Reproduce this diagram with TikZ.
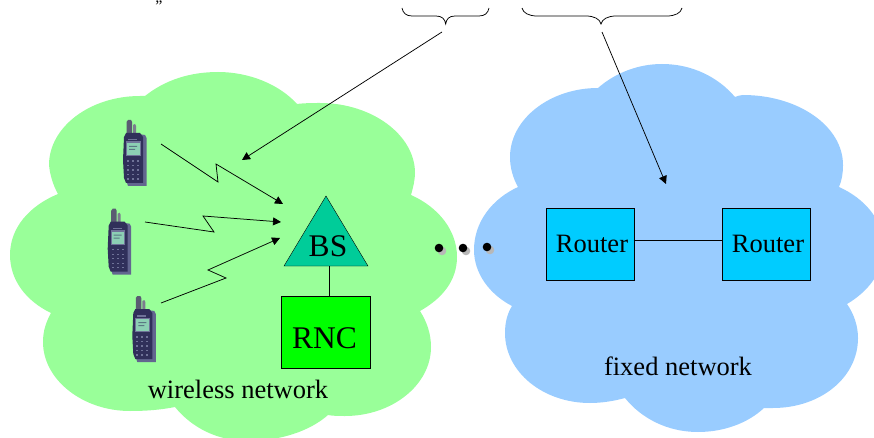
\documentclass[tikz,border=0pt]{standalone}
\usepackage{fontspec}
\setmainfont{Liberation Serif}
\usetikzlibrary{arrows.meta,shapes.geometric}
\definecolor{cloudgreen}{HTML}{99FF99}
\definecolor{cloudblue}{HTML}{99CCFF}
\definecolor{bsfill}{HTML}{00CC99}
\definecolor{rncfill}{HTML}{00FF00}
\definecolor{routerfill}{HTML}{00CCFF}
\definecolor{phonebody}{HTML}{30305A}
\definecolor{phoneback}{HTML}{62668F}
\definecolor{phonescreen}{HTML}{8CCFB4}
\definecolor{phonekey}{HTML}{6F7398}
\definecolor{phoneaerial}{HTML}{5A5C72}
\tikzset{
  x=1pt,y=-1pt,
  line width=0.8pt,
  label text/.style={inner sep=0pt,anchor=base,font=\fontsize{26.5}{28}\selectfont},
  big text/.style={inner sep=0pt,anchor=base,font=\fontsize{31.5}{33}\selectfont},
  routerbox/.style={draw=black,fill=routerfill,minimum width=88pt,minimum height=72pt,inner sep=0pt,outer sep=0pt},
  signal/.style={draw=black,line width=0.75pt,-{Triangle[length=8pt,width=8pt]}},
  pointer/.style={draw=black,line width=0.75pt,-{Triangle[length=8pt,width=8pt]}},
  dotmark/.style={circle,fill=black,minimum size=8.6pt,inner sep=0pt},
  dotshadow/.style={circle,fill=black!28,minimum size=8.6pt,inner sep=0pt},
  bracket/.style={draw=black,line width=0.75pt},
  phone/.pic={
    \fill[phoneback] (8,13) -- (22,15) -- (23.5,18) -- (23.5,66) -- (5,66) -- (3,60) -- cycle;
    \fill[phoneaerial] (3.5,14) -- (3.5,2) -- (5,0) -- (8,0) -- (9,2) -- (9,14) -- cycle;
    \fill[phoneaerial!80] (10,14) -- (10,5) -- (12,4) -- (13,6) -- (13,14) -- cycle;
    \fill[phonebody] (1,17) -- (3,13) -- (17,13) -- (20,17) -- (20,63) -- (3,63) -- (1,58) -- (0,40) -- cycle;
    \fill[phonekey] (5,19) rectangle (14,20.5);
    \fill[phonekey] (3,21.5) rectangle (17.5,36);
    \fill[phonescreen] (4,23) rectangle (16.5,35);
    \fill[phonebody!55!phonescreen] (6,26) rectangle (14,27) (6,29) rectangle (12,30);
    \foreach \ky in {41,45.5,50,54.5,59}{
      \foreach \kx in {5,10,15}{
        \fill[phonekey] (\kx-1,\ky-0.6) rectangle (\kx+1,\ky+0.6);
      }
    }
  }
}
\begin{document}
\begin{tikzpicture}
\clip (0,0) rectangle (874,438);
\useasboundingbox (0,0) rectangle (874,438);
% clouds
\fill[cloudgreen] (145,96) .. controls (165,80) and (190,72) .. (218,72)
  .. controls (250,72) and (280,85) .. (297,104)
  .. controls (305,103) and (312,103) .. (320,103)
  .. controls (372,103) and (415,135) .. (415,173)
  .. controls (415,180) and (413,188) .. (411,195)
  .. controls (438,207) and (457,230) .. (457,257)
  .. controls (457,280) and (443,298) .. (420,311)
  .. controls (427,322) and (431,334) .. (431,347)
  .. controls (431,385) and (392,416) .. (345,416)
  .. controls (339,416) and (333,416) .. (328,415)
  .. controls (310,431) and (280,441) .. (248,441)
  .. controls (218,441) and (192,428) .. (175,407)
  .. controls (160,410) and (145,411) .. (130,411)
  .. controls (83,411) and (43,380) .. (43,342)
  .. controls (43,331) and (46,322) .. (51,313)
  .. controls (26,301) and (10,280) .. (10,255)
  .. controls (10,228) and (29,206) .. (58,194)
  .. controls (53,185) and (50,175) .. (49,165)
  .. controls (49,127) and (90,96) .. (140,96)
  .. controls (142,96) and (143,96) .. (145,96) -- cycle;
\fill[cloudblue] (598,88) .. controls (615,73) and (638,64) .. (662,64)
  .. controls (692,64) and (718,77) .. (735,97)
  .. controls (738,96) and (740,95) .. (743,95)
  .. controls (798,95) and (843,126) .. (843,165)
  .. controls (843,173) and (842,180) .. (839,187)
  .. controls (866,199) and (884,222) .. (884,247)
  .. controls (884,271) and (869,291) .. (847,304)
  .. controls (854,314) and (858,326) .. (858,338)
  .. controls (858,378) and (820,408) .. (773,408)
  .. controls (770,408) and (767,408) .. (764,408)
  .. controls (748,423) and (724,432) .. (698,432)
  .. controls (667,432) and (641,418) .. (625,398)
  .. controls (614,401) and (602,403) .. (590,403)
  .. controls (543,403) and (505,372) .. (505,333)
  .. controls (505,323) and (507,314) .. (512,306)
  .. controls (489,294) and (474,273) .. (474,250)
  .. controls (474,222) and (492,199) .. (518,187)
  .. controls (513,178) and (510,168) .. (510,157)
  .. controls (510,119) and (550,88) .. (598,88) -- cycle;
% small mark at the top edge
\node[inner sep=0pt,anchor=base,font=\fontsize{16}{17}\selectfont] (topquote) at (159,11.2) {”};
% phones
\pic at (123,120) {phone};
\pic at (107.7,208.7) {phone};
\pic at (132.3,296) {phone};
% base station and controller
\node[draw=black,fill=rncfill,minimum width=88.4pt,minimum height=72pt,inner sep=0pt,outer sep=0pt] (rnc) at (325.5,332) {};
\node[draw=black,fill=bsfill,isosceles triangle,shape border rotate=90,isosceles triangle apex angle=62,isosceles triangle stretches,minimum height=70pt,minimum width=84pt,inner sep=0pt,outer sep=0pt,anchor=apex] (bs) at (326,196) {};
\draw ([xshift=4pt]rnc.north) -- ([xshift=4pt]rnc.north |- bs.left corner);
\node[big text] (bstext) at (328,256) {BS};
\node[big text] (rnctext) at (324.5,348) {RNC};
% routers
\node[routerbox] (r1) at (589.7,244) {};
\node[routerbox] (r2) at (765.8,244) {};
\draw ([yshift=4pt]r1.east) -- ([yshift=4pt]r2.west);
\node[label text] (r1text) at (592,252) {Router};
\node[label text] (r2text) at (768,252) {Router};
% labels
\node[label text] (wireless) at (238,398) {wireless network};
\node[label text] (fixed) at (678,375) {fixed network};
% radio links
\coordinate (p1) at (161,144);
\coordinate (p2) at (145,222);
\coordinate (p3) at (161,303);
\coordinate (t1) at (283,204);
\coordinate (t2) at (281,222);
\coordinate (t3) at (280,238);
\draw[signal] (p1) -- (218,182) -- (216,164) -- (t1);
\draw[signal] (p2) -- (214,232) -- (203,216) -- (t2);
\draw[signal] (p3) -- (226,278) -- (208,270) -- (t3);
% dots
\node[dotshadow] (s1) at (442,251) {};
\node[dotshadow] (s2) at (466,251) {};
\node[dotshadow] (s3) at (490,250) {};
\node[dotmark] (d1) at (439,248) {};
\node[dotmark] (d2) at (463,248) {};
\node[dotmark] (d3) at (487,247) {};
% braces
\draw[bracket] (402,8) .. controls (403,13) and (406,16) .. (412,16)
  -- (436,16) .. controls (442,16) and (445,19) .. (445.7,24)
  .. controls (446.4,19) and (449,16) .. (455,16)
  -- (479,16) .. controls (485,16) and (488,13) .. (489,8);
\draw[bracket] (522,8) .. controls (523,13) and (529,16) .. (537,16)
  -- (586,16) .. controls (594,16) and (600,19) .. (601,24)
  .. controls (602,19) and (608,16) .. (616,16)
  -- (667,16) .. controls (675,16) and (681,13) .. (682,8);
% pointers
\coordinate (b1) at (442,32);
\coordinate (b2) at (602,32);
\coordinate (e1) at (242,160);
\coordinate (e2) at (666,184);
\draw[pointer] (b1) -- (e1);
\draw[pointer] (b2) -- (e2);
\end{tikzpicture}
\end{document}
